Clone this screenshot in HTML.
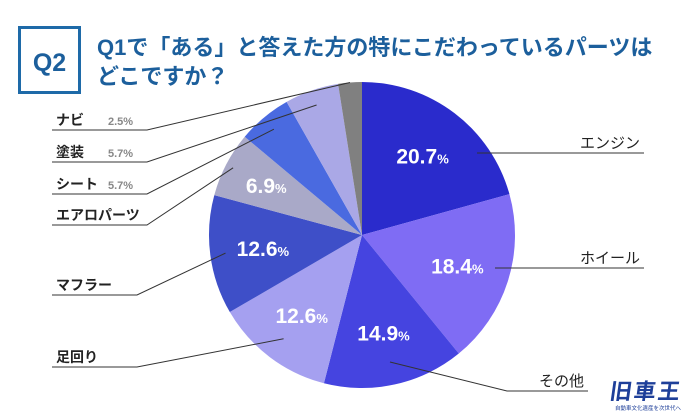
<!DOCTYPE html>
<html><head><meta charset="utf-8"><style>
html,body{margin:0;padding:0;background:#fff;}
body{width:700px;height:420px;overflow:hidden;position:relative;font-family:"Liberation Sans","Noto Sans CJK JP",sans-serif;}
svg{position:absolute;left:0;top:0;}
</style></head><body>
<svg id="chart" width="700" height="420">
  <rect x="19.5" y="27.5" width="60" height="65" fill="none" stroke="#1e6aa8" stroke-width="3"/>
  <text x="49.5" y="71" text-anchor="middle" font-size="25" font-weight="bold" fill="#1c5f9c">Q2</text>
  <text x="97" y="55" font-size="22" font-weight="bold" fill="#1c5f9c" font-family="'Liberation Sans','Noto Sans CJK JP',sans-serif">Q1で「ある」と答えた方の特にこだわっているパーツは</text>
  <text x="97" y="84" font-size="22" font-weight="bold" fill="#1c5f9c" font-family="'Liberation Sans','Noto Sans CJK JP',sans-serif">どこですか？</text>
  <g id="slices"></g>
  <g id="leaders" stroke="#333" stroke-width="1" fill="none"></g>
  <g id="labels"></g>
  <g>
    <text x="645" y="399" text-anchor="middle" font-size="22" font-weight="bold" fill="#1e3f99" letter-spacing="2" transform="skewX(-8) translate(56,0)" font-family="'Noto Sans CJK JP',sans-serif">旧車王</text>
    <text x="648" y="410" text-anchor="middle" font-size="5.5" fill="#1e3f99" font-family="'Noto Sans CJK JP',sans-serif">自動車文化遺産を次世代へ</text>
  </g>
</svg>
<script>
const categories = ["エンジン","ホイール","その他","足回り","マフラー","エアロパーツ","シート","塗装","ナビ"];
const values = [20.7, 18.4, 14.9, 12.6, 12.6, 6.9, 5.7, 5.7, 2.5];
const colors = ["#2a2bcc","#7f6cf4","#4544e0","#a5a0f0","#3e4fc8","#a9a9c8","#4a6ae0","#aaa8e6","#808080"];
const insideShown = [true,true,true,true,true,true,false,false,false];

const NS="http://www.w3.org/2000/svg";
const cx=362, cy=235, R=153;
const total=values.reduce((a,b)=>a+b,0);
function pt(frac,r){const a=frac*2*Math.PI;return [cx+r*Math.sin(a), cy-r*Math.cos(a)];}
function mk(tag,attrs,parent){const e=document.createElementNS(NS,tag);for(const k in attrs)e.setAttribute(k,attrs[k]);parent.appendChild(e);return e;}
const gS=document.getElementById('slices'), gL=document.getElementById('leaders'), gT=document.getElementById('labels');
let cum=0;
const mids=[];
values.forEach((v,i)=>{
  const f0=cum/total, f1=(cum+v)/total; cum+=v;
  const [x0,y0]=pt(f0,R),[x1,y1]=pt(f1,R);
  const large=(f1-f0)>0.5?1:0;
  const p=mk('path',{d:`M${cx},${cy}L${x0},${y0}A${R},${R} 0 ${large} 1 ${x1},${y1}Z`,fill:colors[i]},gS);
  
  
  mids.push((f0+f1)/2);
  if(insideShown[i]){
    const [lx,ly]=pt((f0+f1)/2, i===5?108:100);
    const t=mk('text',{x:lx,y:ly+8,'text-anchor':'middle','font-size':21,'font-weight':'bold',fill:'#fff'},gT);
    
    
    t.textContent=v.toFixed(1);
    const s=mk('tspan',{'font-size':13},t);s.textContent='%';
  }
});
// external label layout
const ext=[
 {s:'r',ty:148,uy:153,hx:477,ux:644},{s:'r',ty:263,uy:268,hx:495,ux:644},{s:'r',ty:386,uy:391,r:0.85,bx:507,ux:588},
 {s:'l',ty:362,uy:367,r:0.85},{s:'l',ty:290,uy:295,r:0.9},{s:'l',ty:220,uy:225,r:0.95},
 {s:'l',ty:189,uy:194,r:0.9},{s:'l',ty:157,uy:162,r:0.9},{s:'l',ty:125,uy:130,r:1.0}
];
ext.forEach((e,i)=>{
  let d;
  if(e.s==='r'){
    if(e.hx){ d=`M${e.hx},${e.uy}L${e.ux},${e.uy}`; }
    else { const [px,py]=pt(mids[i],R*e.r); d=`M${px},${py}L${e.bx},${e.uy}L${e.ux},${e.uy}`; }
  } else {
    const [px,py]=pt(mids[i],R*e.r);
    const endx = (i===3||i===4)?137:147;
    d=`M${px},${py}L${endx},${e.uy}L52,${e.uy}`;
  }
  const l=mk('path',{d:d},gL);
  
  
  const t=mk('text',{x:e.s==='r'?e.ux-4:56,y:e.ty,'text-anchor':e.s==='r'?'end':'start','font-size':e.s==='r'?15:14,fill:'#222','font-weight':e.s==='r'?'normal':'bold'},gT);
  
  
  t.textContent=categories[i];
  if(!insideShown[i]){
    const s=mk('tspan',{x:108,'font-size':11,fill:'#888'},t);
    s.textContent=values[i].toFixed(1)+'%';
  }
});
</script>
</body></html>
